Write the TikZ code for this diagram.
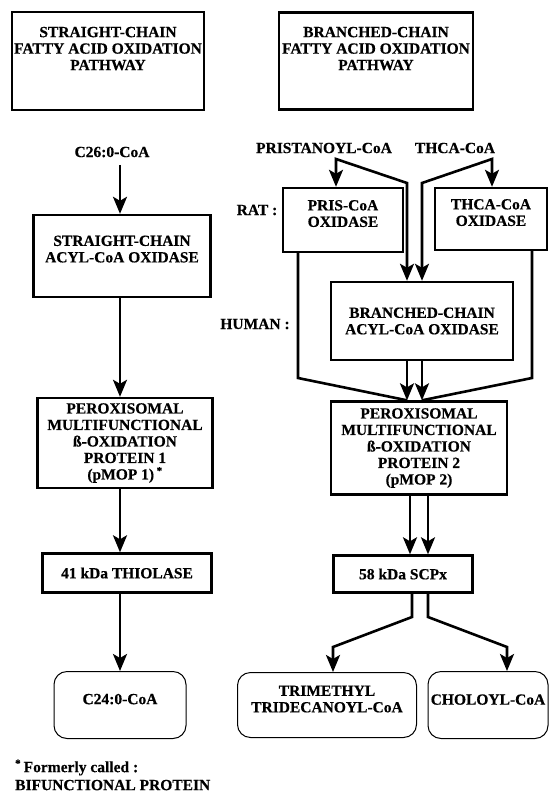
\documentclass[tikz,border=0pt]{standalone}
\usepackage{fontspec}
\setmainfont{Liberation Serif}[BoldFeatures={FakeBold=0.4}]
\usetikzlibrary{arrows.meta}

\tikzset{
  >={Stealth[length=17pt,width=14pt,inset=4pt]},
  headbox/.style={draw, line width=2.6pt, align=center, inner sep=0pt},
  enzbox/.style={draw, line width=2.4pt, align=center, inner sep=0pt},
  endbox/.style={draw, line width=1pt, rounded corners=13pt, align=center, inner sep=0pt},
  link/.style={line width=2.6pt},
  arr/.style={link, ->},
}

\begin{document}
\begin{tikzpicture}[x=1pt, y=-1pt, font=\fontsize{15.5}{16.5}\selectfont\bfseries]
  \useasboundingbox (0,0) rectangle (553,793);

  % pathway headings
  \node[headbox, minimum width=192, minimum height=98] (straight) at (108,61)
    {STRAIGHT-CHAIN\\FATTY ACID OXIDATION\\PATHWAY\\[8.5pt]\mbox{}};
  \node[headbox, minimum width=194, minimum height=97] (branched) at (376,61)
    {BRANCHED-CHAIN\\FATTY ACID OXIDATION\\PATHWAY\\[8.5pt]\mbox{}};

  % straight-chain column
  \node (c26) at (112,152) {C26:0-CoA};
  \node[enzbox, minimum width=177, minimum height=82] (scox) at (122,256)
    {STRAIGHT-CHAIN\\ACYL-CoA OXIDASE\\[-2.5pt]\mbox{}};
  \node[enzbox, minimum width=175, minimum height=90] (pmop1) at (125,443)
    {PEROXISOMAL\\MULTIFUNCTIONAL\\ß-OXIDATION\\PROTEIN 1\\(pMOP 1)\,\textsuperscript{*}};
  \node[enzbox, minimum width=169, minimum height=39] (thio) at (127,573) {41 kDa THIOLASE};
  \node[endbox, minimum width=132, minimum height=67] (c24) at (120,705) {C24:0-CoA\\[-4.5pt]\mbox{}};

  \draw[arr, shorten <=4pt] (c26.south -| c24) -- (scox.north -| c24);
  \draw[arr] (scox.south -| c24) -- (pmop1.north -| c24);
  \draw[arr] (pmop1.south -| c24) -- (thio.north -| c24);
  \draw[arr] (thio.south -| c24) -- (c24.north);

  % branched-chain column
  \node (pris) at (324,148) {PRISTANOYL-CoA};
  \node (thca) at (455,148) {THCA-CoA};
  \node (rat) at (257,210) {RAT :};
  \node (human) at (255,324) {HUMAN :};
  \node[enzbox, minimum width=120, minimum height=64] (prisox) at (343,220)
    {PRIS-CoA\\OXIDASE\\[-3.5pt]\mbox{}};
  \node[enzbox, minimum width=112, minimum height=62] (thcaox) at (491,219)
    {THCA-CoA\\OXIDASE\\[-3.5pt]\mbox{}};
  \node[enzbox, minimum width=182, minimum height=78] (bcox) at (422,321)
    {BRANCHED-CHAIN\\ACYL-CoA OXIDASE};
  \node[enzbox, minimum width=176, minimum height=93] (pmop2) at (419,448)
    {PEROXISOMAL\\MULTIFUNCTIONAL\\ß-OXIDATION\\PROTEIN 2\\(pMOP 2)};
  \node[enzbox, minimum width=139, minimum height=37] (scpx) at (403,574) {58 kDa SCPx};
  \node[endbox, minimum width=179, minimum height=65] (trim) at (327,705)
    {TRIMETHYL\\TRIDECANOYL-CoA\\[-4.5pt]\mbox{}};
  \node[endbox, minimum width=120, minimum height=67] (chol) at (488,705)
    {CHOLOYL-CoA\\[-5.5pt]\mbox{}};

  \coordinate (pa) at (336,159);
  \coordinate (pb) at (407,183);
  \coordinate (pc) at (298,378);
  \coordinate (ta) at (492,159);
  \coordinate (tb) at (422,183);
  \coordinate (tc) at (532,378);
  \draw[link, <->] (prisox.north -| pa) -- (pa) -- (pb) -- (bcox.north -| pb);
  \draw[link, <->] (thcaox.north -| ta) -- (ta) -- (tb) -- (bcox.north -| tb);
  \draw[arr] (bcox.south -| pb) -- (pmop2.north -| pb);
  \draw[arr] (bcox.south -| tb) -- (pmop2.north -| tb);
  \draw[link] (prisox.south -| pc) -- (pc) -- (pmop2.north -| pb);
  \draw[link] (thcaox.south -| tc) -- (tc) -- (pmop2.north -| tb);

  \foreach \d in {-9,9}
    \draw[arr] ([xshift=\d]pmop2.south) -- ([xshift=\d]pmop2.south |- scpx.north);

  \coordinate (sl) at (412,617);
  \coordinate (sm) at (333,647);
  \coordinate (sr) at (428,617);
  \coordinate (sn) at (507,647);
  \draw[arr] (scpx.south -| sl) -- (sl) -- (sm) -- (trim.north -| sm);
  \draw[arr] (scpx.south -| sr) -- (sr) -- (sn) -- (chol.north -| sn);

  % footnote
  \node[anchor=west, align=left, inner sep=0pt, font=\fontsize{15.5}{18}\selectfont\bfseries] (note) at (15,775)
    {\textsuperscript{*}\,Formerly called :\\BIFUNCTIONAL PROTEIN};
\end{tikzpicture}
\end{document}
